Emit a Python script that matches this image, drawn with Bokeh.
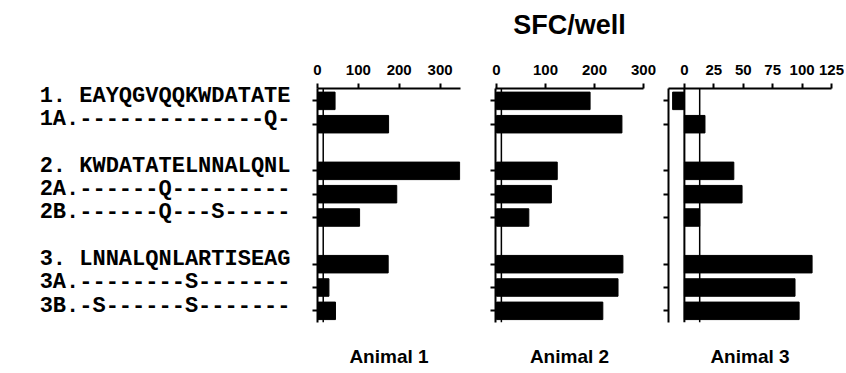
from bokeh.plotting import figure
from bokeh.models import Range1d, FixedTicker, Span, LinearAxis
from bokeh.layouts import row
from bokeh.embed import file_html
from bokeh.resources import INLINE

# ---- data ----
peptides = [
    "1. EAYQGVQQKWDATATE",
    "1A.--------------Q-",
    "2. KWDATATELNNALQNL",
    "2A.------Q---------",
    "2B.------Q---S-----",
    "3. LNNALQNLARTISEAG",
    "3A.--------S-------",
    "3B.-S------S-------",
]
group_sizes = [2, 3, 3]
animal1 = [43, 174, 348, 194, 103, 173, 28, 44]
animal2 = [191, 256, 124, 112, 66, 258, 248, 217]
animal3 = [-10, 17.5, 42, 49, 13, 108.5, 94, 97.5]
cutoffs = [14, 10, 13]
ticks1 = [0, 100, 200, 300]
ticks2 = [0, 100, 200, 300]
ticks3 = [0, 25, 50, 75, 100, 125]
animal_names = ["Animal 1", "Animal 2", "Animal 3"]
title_text = "SFC/well"

# row positions: one blank row between peptide groups
row_pos = []
pos = 0
for g in group_sizes:
    for _ in range(g):
        row_pos.append(pos)
        pos += 1
    pos += 1

FRAME_H = 234
TOP = 88
BOTTOM = 45
Y_TOP, Y_BOTTOM = -0.53, 9.5
LABEL_SHIFT = 0.2  # sequence labels sit slightly above their ticks


def panel(values, xr, ticks, cutoff, name, left, fw, right,
          labels=False, title=None, zero_line=False):
    p = figure(frame_width=fw, frame_height=FRAME_H,
               min_border_left=left, min_border_right=right,
               min_border_top=TOP, min_border_bottom=BOTTOM,
               x_range=Range1d(*xr), y_range=Range1d(Y_BOTTOM, Y_TOP),
               x_axis_location="above", output_backend="svg",
               toolbar_location=None)
    p.outline_line_color = None
    p.xgrid.visible = False
    p.ygrid.visible = False
    p.background_fill_color = "white"
    p.border_fill_color = "white"

    p.hbar(y=row_pos, left=0, right=values, height=0.75,
           fill_color="black", line_color="black")

    p.add_layout(Span(location=cutoff, dimension="height",
                      line_color="black", line_width=1.5))
    if zero_line:
        p.add_layout(Span(location=0, dimension="height",
                          line_color="black", line_width=2))

    xa = p.xaxis[0]
    xa.ticker = FixedTicker(ticks=ticks)
    xa.axis_line_width = 2
    xa.major_tick_line_width = 2
    xa.major_tick_out = 5
    xa.major_tick_in = 0
    xa.minor_tick_line_color = None
    xa.major_label_standoff = 9
    xa.major_label_text_font = "Liberation Sans"
    xa.major_label_text_font_style = "bold"
    xa.major_label_text_font_size = "15px"
    xa.major_label_text_color = "black"
    if title:
        xa.axis_label = title
        xa.axis_label_standoff = 22
        xa.axis_label_text_font = "Liberation Sans"
        xa.axis_label_text_font_style = "bold"
        xa.axis_label_text_font_size = "27px"
        xa.axis_label_text_color = "black"

    ya = p.yaxis[0]
    ya.ticker = FixedTicker(ticks=[], minor_ticks=row_pos)
    ya.axis_line_width = 2
    ya.major_tick_line_color = None
    ya.major_tick_out = 0
    ya.major_tick_in = 0
    ya.minor_tick_line_color = "black"
    ya.minor_tick_line_width = 2
    ya.minor_tick_out = 5
    ya.minor_tick_in = 0
    ya.major_label_standoff = 0

    if labels:
        p.extra_y_ranges = {"labels": Range1d(Y_BOTTOM + LABEL_SHIFT, Y_TOP + LABEL_SHIFT)}
        la = LinearAxis(y_range_name="labels",
                        ticker=FixedTicker(ticks=row_pos),
                        axis_line_color=None,
                        major_tick_line_color=None,
                        minor_tick_line_color=None,
                        major_tick_out=0, major_tick_in=0,
                        minor_tick_out=0, minor_tick_in=0,
                        major_label_overrides={r: s for r, s in zip(row_pos, peptides)},
                        major_label_text_font="Liberation Mono",
                        major_label_text_font_style="bold",
                        major_label_text_font_size="22px",
                        major_label_text_color="black",
                        major_label_standoff=22)
        p.add_layout(la, "left")

    bottom_axis = LinearAxis(ticker=FixedTicker(ticks=[]),
                             axis_line_color=None,
                             major_tick_line_color=None,
                             minor_tick_line_color=None,
                             major_tick_out=0, major_tick_in=0,
                             minor_tick_out=0, minor_tick_in=0,
                             major_label_standoff=0,
                             axis_label=name,
                             axis_label_standoff=23,
                             axis_label_text_font="Liberation Sans",
                             axis_label_text_font_style="bold",
                             axis_label_text_font_size="19px",
                             axis_label_text_color="black")
    p.add_layout(bottom_axis, "below")
    return p


p1 = panel(animal1, (0, 350), ticks1, cutoffs[0], animal_names[0], 317, 143, 18, labels=True)
p2 = panel(animal2, (-2, 300), ticks2, cutoffs[1], animal_names[1], 17, 148, 13, title=title_text)
p3 = panel(animal3, (-13.5, 125), ticks3, cutoffs[2], animal_names[2], 12, 163, 13, zero_line=True)

layout = row(p1, p2, p3)
open("out.html", "w").write(file_html(layout, INLINE))
